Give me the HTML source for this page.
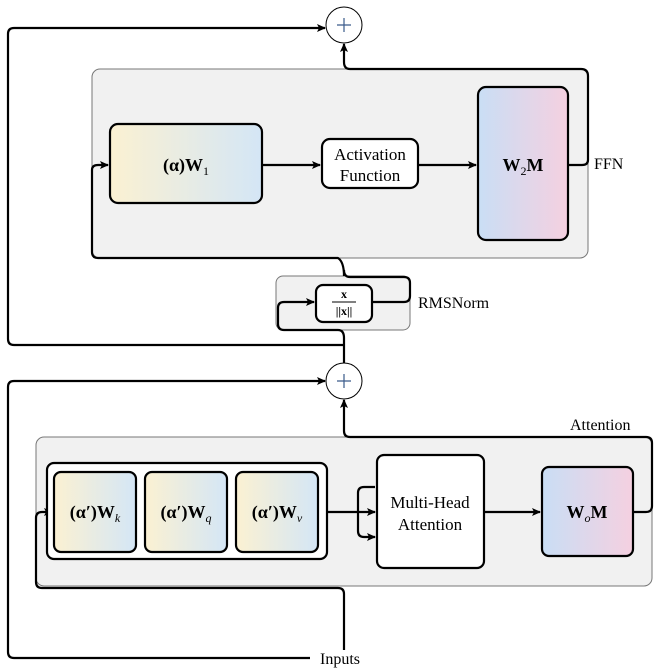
<!DOCTYPE html>
<html><head><style>body{margin:0;background:#fff}svg{display:block}
text{font-family:"Liberation Serif",serif;fill:#000}</style></head><body>
<svg width="657" height="671" viewBox="0 0 657 671" xmlns="http://www.w3.org/2000/svg">
<defs>
<linearGradient id="g1" x1="0" x2="1"><stop offset="0" stop-color="#fbf1d2"/><stop offset="1" stop-color="#d4e6f6"/></linearGradient>
<linearGradient id="g2" x1="0" x2="1"><stop offset="0" stop-color="#c9def5"/><stop offset="1" stop-color="#f5d0e0"/></linearGradient>
<marker id="a" markerWidth="10" markerHeight="10" refX="8" refY="5" orient="auto" markerUnits="userSpaceOnUse"><path d="M0,1 L9,5 L0,9 L2,5z" fill="#000"/></marker>
</defs>
<g fill="#f1f1f1" stroke="#777" stroke-width="1">
<rect x="92" y="69" width="496" height="189" rx="8"/>
<rect x="276" y="276" width="134" height="54" rx="7"/>
<rect x="36" y="437" width="616" height="149" rx="8"/>
</g>
<g fill="none" stroke="#000" stroke-width="2.2" stroke-linejoin="round">
<path d="M344,345 H14 Q8,345 8,339 V34 Q8,28 14,28 H325" marker-end="url(#a)"/>
<path d="M568,165 H582 Q588,165 588,160 V76 Q588,69 581,69 H350 Q344,69 344,62 V44" marker-end="url(#a)"/>
<path d="M344,276 Q344,262 338,258 H98 Q92,258 92,252 V170 Q92,165 98,165 H108" marker-end="url(#a)"/>
<path d="M262,165 H320" marker-end="url(#a)"/>
<path d="M418,165 H476" marker-end="url(#a)"/>
<path d="M372,302 H404 Q410,302 410,296 V283 Q410,277 404,277 H350 Q344,277 344,270"/>
<path d="M344,364 V338 Q344,330 338,330 H284 Q278,330 278,324 V308 Q278,302 284,302 H314" marker-end="url(#a)"/>
<path d="M310,658 H14 Q8,658 8,652 V387 Q8,381 14,381 H325" marker-end="url(#a)"/>
<path d="M344,650 V594 Q344,588 338,588 H42 Q36,588 36,582 V518 Q36,512 42,512 H52" marker-end="url(#a)"/>
<path d="M633,512 H646 Q652,512 652,506 V443 Q652,437 646,437 H350 Q344,437 344,431 V400" marker-end="url(#a)"/>
<path d="M327,512 H375" marker-end="url(#a)"/>
<path d="M375,487 H364 Q358,487 358,493 V531 Q358,537 364,537 H375" marker-end="url(#a)"/>
<path d="M484,512 H540" marker-end="url(#a)"/>
</g>
<g stroke="#000" stroke-width="2.2">
<rect x="110" y="124" width="152" height="79" rx="8" fill="url(#g1)"/>
<rect x="322" y="139" width="96" height="49" rx="8" fill="#fff"/>
<rect x="478" y="87" width="90" height="153" rx="8" fill="url(#g2)"/>
<rect x="316" y="285" width="56" height="37" rx="7" fill="#fff"/>
<rect x="47" y="463" width="280" height="96" rx="7" fill="#fff"/>
<rect x="54" y="472" width="82" height="80" rx="7" fill="url(#g1)"/>
<rect x="145" y="472" width="82" height="80" rx="7" fill="url(#g1)"/>
<rect x="236" y="472" width="82" height="80" rx="7" fill="url(#g1)"/>
<rect x="377" y="455" width="107" height="113" rx="7" fill="#fff"/>
<rect x="542" y="467" width="91" height="89" rx="7" fill="url(#g2)"/>
</g>
<g fill="#fff" stroke="#000" stroke-width="1"><circle cx="344" cy="25" r="18"/><circle cx="344" cy="381" r="18"/></g>
<g stroke="#3a5a8a" stroke-width="1.2"><path d="M337,25 H351 M344,18 V32"/><path d="M337,381 H351 M344,374 V388"/></g>
<g font-size="18" text-anchor="middle">
<text x="186" y="171"><tspan font-weight="bold">(α)W</tspan><tspan font-size="12" dy="4">1</tspan></text>
<text x="370" y="160" font-size="17">Activation</text><text x="370" y="181" font-size="17">Function</text>
<text x="523" y="171" font-weight="bold">W<tspan font-size="12" dy="4" font-weight="normal">2</tspan><tspan dy="-4">M</tspan></text>
<text x="95" y="518" font-weight="bold">(α′)W<tspan font-size="12" dy="4" font-style="italic" font-weight="normal">k</tspan></text>
<text x="186" y="518" font-weight="bold">(α′)W<tspan font-size="12" dy="4" font-style="italic" font-weight="normal">q</tspan></text>
<text x="277" y="518" font-weight="bold">(α′)W<tspan font-size="12" dy="4" font-style="italic" font-weight="normal">v</tspan></text>
<text x="430" y="508" font-size="17">Multi-Head</text><text x="430" y="530" font-size="17">Attention</text>
<text x="587" y="518" font-weight="bold">W<tspan font-size="12" dy="4" font-style="italic" font-weight="normal">o</tspan><tspan dy="-4">M</tspan></text>
<text x="344" y="298" font-size="12" font-weight="bold">x</text>
<text x="344" y="315" font-size="12" font-weight="bold">||x||</text>
</g>
<line x1="332" y1="302" x2="356" y2="302" stroke="#000" stroke-width="1"/>
<g font-size="16">
<text x="594" y="169">FFN</text>
<text x="418" y="308">RMSNorm</text>
<text x="570" y="430">Attention</text>
<text x="320" y="664">Inputs</text>
</g>
</svg>
</body></html>
